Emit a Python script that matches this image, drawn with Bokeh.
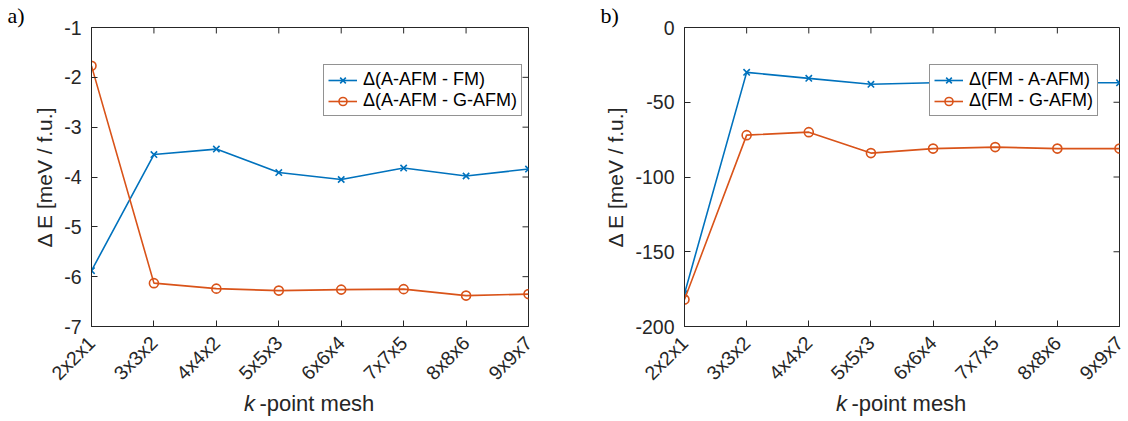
import math
from bokeh.plotting import figure
from bokeh.layouts import row, column
from bokeh.models import Range1d, FixedTicker, Legend, LegendItem, Title, Div
from bokeh.embed import file_html
from bokeh.resources import INLINE

# ---- data ----
meshes = ["2x2x1", "3x3x2", "4x4x2", "5x5x3", "6x6x4", "7x7x5", "8x8x6", "9x9x7"]
a_afm_fm = [-5.88, -3.55, -3.44, -3.91, -4.05, -3.82, -3.98, -3.84]
a_afm_gafm = [-1.77, -6.13, -6.24, -6.28, -6.26, -6.25, -6.38, -6.35]
b_fm_aafm = [-178, -30, -34, -38, -37, -37, -37, -37]
b_fm_gafm = [-182, -72, -70, -84, -81, -80, -81, -81]

a_yticks = [-7, -6, -5, -4, -3, -2, -1]
b_yticks = [-200, -150, -100, -50, 0]

BLUE = "#0072BD"
ORANGE = "#D95319"
AX = "#262626"
FONT = "Liberation Sans"
SERIF = "Liberation Serif"

H = 421
FIG_H = 398
DIV_H = H - FIG_H
TOP = 25
BOTTOM = FIG_H - 326
TICK = 6
W = 564


def panel(width, left, right, yr, yticks, s1, s2, n1, n2, leg_x, tag):
    p = figure(width=width, height=FIG_H, output_backend="svg", toolbar_location=None,
               x_range=Range1d(0, 7), y_range=Range1d(*yr),
               min_border_left=left, min_border_right=right,
               min_border_top=TOP, min_border_bottom=BOTTOM,
               background_fill_color="white", border_fill_color="white")
    p.grid.visible = False
    p.outline_line_color = AX
    p.outline_line_width = 1

    fw = width - left - right
    fh = FIG_H - TOP - BOTTOM
    dx = TICK / fw * 7.0
    dy = TICK / fh * (yr[1] - yr[0])

    xs = list(range(len(meshes)))
    # mirrored inward ticks on right and top
    p.segment(x0=[7 - dx] * len(yticks), y0=yticks, x1=[7] * len(yticks), y1=yticks,
              line_color=AX, line_width=1)
    p.segment(x0=xs, y0=[yr[1] - dy] * len(xs), x1=xs, y1=[yr[1]] * len(xs),
              line_color=AX, line_width=1)

    l1 = p.line(xs, s1, line_color=BLUE, line_width=1.6)
    m1 = p.scatter(xs, s1, marker="x", size=9, line_color=BLUE, line_width=1.6)
    l2 = p.line(xs, s2, line_color=ORANGE, line_width=1.6)
    m2 = p.scatter(xs, s2, marker="circle", size=9, line_color=ORANGE,
                   line_width=1.6, fill_alpha=0)

    # axes
    xa = p.xaxis[0]
    xa.ticker = FixedTicker(ticks=xs)
    xa.major_label_overrides = {i: m for i, m in enumerate(meshes)}
    xa.major_label_orientation = math.pi / 4
    ya = p.yaxis[0]
    ya.ticker = FixedTicker(ticks=yticks)
    ya.major_label_overrides = {t: str(t) for t in yticks}
    ya.axis_label = "Δ E [meV / f.u.]"
    ya.axis_label_text_font = FONT
    ya.axis_label_text_font_size = "21px"
    ya.axis_label_text_font_style = "normal"
    ya.axis_label_text_color = AX
    ya.axis_label_standoff = 5
    for ax in (xa, ya):
        ax.major_tick_in = TICK
        ax.major_tick_out = 0
        ax.minor_tick_line_color = None
        ax.axis_line_color = AX
        ax.major_tick_line_color = AX
        ax.major_label_text_font = FONT
        ax.major_label_text_font_size = "19.5px"
        ax.major_label_text_color = AX
    xa.major_label_standoff = 13
    ya.major_label_standoff = 10

    legend = Legend(items=[LegendItem(label=n1, renderers=[l1, m1]),
                           LegendItem(label=n2, renderers=[l2, m2])],
                    location=(leg_x, 210), margin=0, padding=4, spacing=0,
                    glyph_width=29, glyph_height=20, label_height=20,
                    label_standoff=6, label_text_font=FONT,
                    label_text_font_size="18px", label_text_color="black",
                    border_line_color=AX, border_line_width=1,
                    background_fill_color="white", background_fill_alpha=1.0)
    p.add_layout(legend)

    # panel tag
    p.add_layout(Title(text=tag, align="left", offset=-84, standoff=0,
                       text_font=SERIF, text_font_size="22px",
                       text_font_style="normal", text_color="black"), "above")

    # x axis label (italic k) as a text block under the figure
    k_left = int(round(left + fw / 2 - 66))
    div = Div(text="<i>k</i>&thinsp;-point mesh", width=width, height=DIV_H,
              margin=(0, 0, 0, 0),
              styles={"font-family": FONT, "font-size": "22px", "color": AX,
                      "line-height": "12px", "padding-top": "0px",
                      "padding-left": f"{k_left}px", "white-space": "nowrap",
                      "overflow": "visible"})
    return column(p, div, spacing=0)


pa = panel(W, 91, 36, (-7, -1), a_yticks, a_afm_fm, a_afm_gafm,
           "Δ(A-AFM - FM)", "Δ(A-AFM - G-AFM)", 232, "a)")
pb = panel(W, 120, 9, (-200, 0), b_yticks, b_fm_aafm, b_fm_gafm,
           "Δ(FM - A-AFM)", "Δ(FM - G-AFM)", 245, "b)")

layout = row(pa, pb, spacing=0)
open("out.html", "w").write(file_html(layout, INLINE))
